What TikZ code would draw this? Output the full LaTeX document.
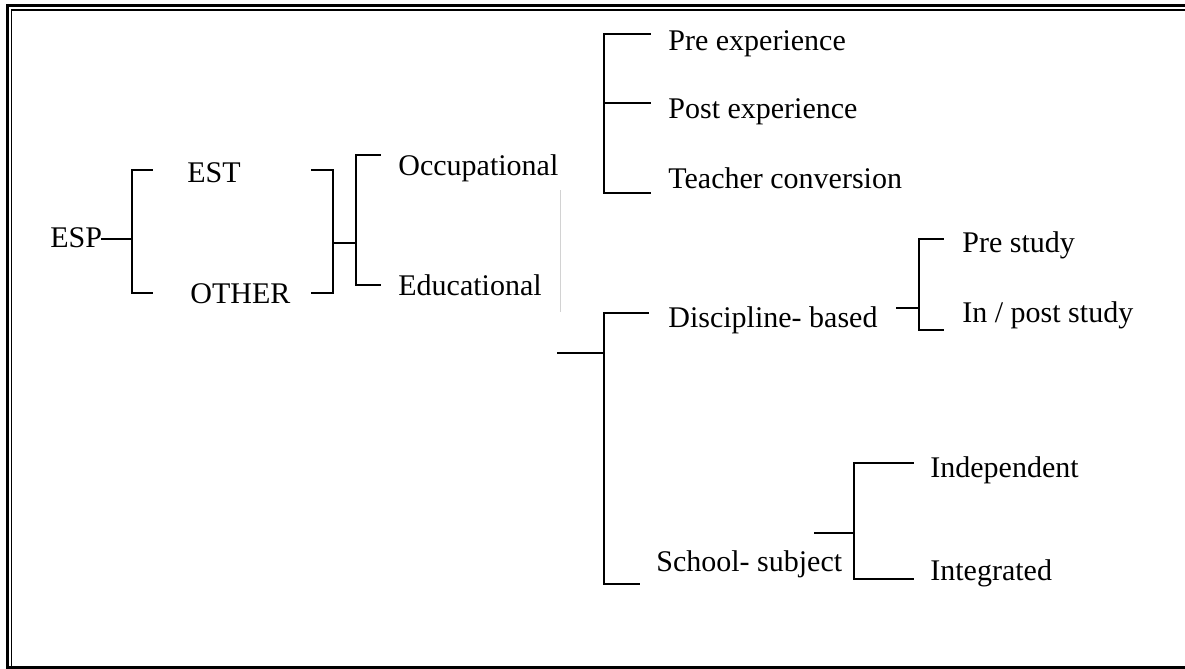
\documentclass[tikz,border=0pt]{standalone}
\usepackage{fontspec}
\setmainfont{Liberation Serif}
\begin{document}
\begin{tikzpicture}[x=0.5pt,y=-0.5pt,
  lbl/.style={anchor=base west,inner sep=0pt,font=\fontsize{15}{18}\selectfont},
  br/.style={line width=1pt,line cap=rect},
  framethick/.style={line width=1.5pt},
  framethin/.style={line width=0.9pt}]
\useasboundingbox (0,0) rectangle (1185,669);
% double frame
\draw[framethick] (1185,5.5) -- (7.5,5.5) -- (7.5,667.5) -- (1185,667.5);
\draw[framethin] (1185,10) -- (11.5,10) -- (11.5,666);
% faint rule
\draw[gray!35,line width=0.5pt] (560.5,190) -- (560.5,312);

% labels
\node[lbl] (esp) at (50,247) {ESP};
\node[lbl] (est) at (187,182) {EST};
\node[lbl] (other) at (190,303) {OTHER};
\node[lbl] (occ) at (398,175) {Occupational};
\node[lbl] (edu) at (398,295) {Educational};
\node[lbl] (preexp) at (668,50) {Pre experience};
\node[lbl] (postexp) at (668,118) {Post experience};
\node[lbl] (teach) at (668,188) {Teacher conversion};
\node[lbl] (disc) at (668,327) {Discipline- based};
\node[lbl] (prest) at (962,252) {Pre study};
\node[lbl] (inpost) at (962,322) {In / post study};
\node[lbl] (school) at (656,571) {School- subject};
\node[lbl] (indep) at (930,477) {Independent};
\node[lbl] (integ) at (930,580) {Integrated};

% ESP -> EST / OTHER
\coordinate (espstem) at (esp.east |- 0,239);
\draw[br] (espstem) -- (132,239);
\draw[br] (152,170) -- (132,170) -- (132,293) -- (152,293);
% EST / OTHER -> Occupational / Educational
\draw[br] (312,170) -- (333,170) -- (333,293) -- (312,293);
\draw[br] (333,243) -- (356,243);
\draw[br] (380,155) -- (356,155) -- (356,285) -- (380,285);
% Occupational branches
\draw[br] (650,34) -- (604,34) -- (604,193) -- (650,193);
\draw[br] (604,103) -- (650,103);
% Educational branches
\draw[br] (558,353) -- (604,353);
\draw[br] (648,313) -- (604,313) -- (604,584) -- (639,584);
% Discipline-based branches
\draw[br] (897,308) -- (919,308);
\draw[br] (943,239) -- (919,239) -- (919,330) -- (943,330);
% School-subject branches
\draw[br] (815,533) -- (854,533);
\draw[br] (913,463) -- (854,463) -- (854,579) -- (913,579);
\end{tikzpicture}
\end{document}
